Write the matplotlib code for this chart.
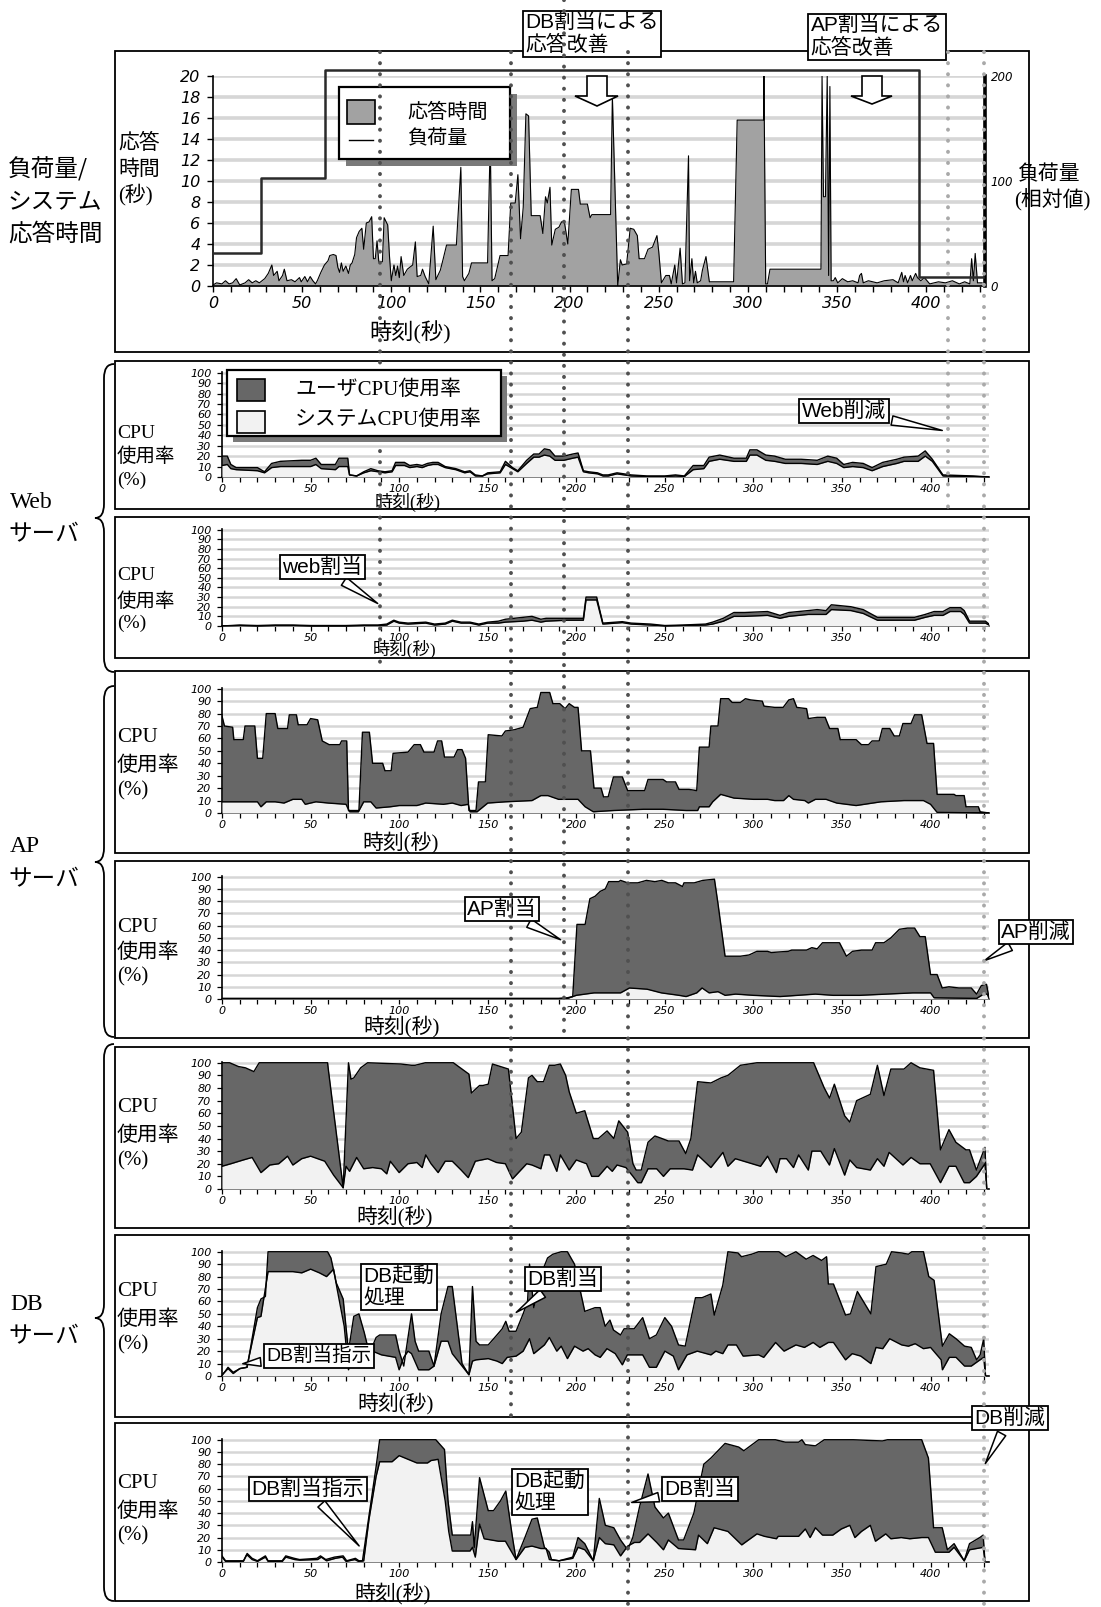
import numpy as np
import matplotlib
matplotlib.use('Agg')
import matplotlib.pyplot as plt
from matplotlib.patches import Rectangle, Polygon, PathPatch
from matplotlib.path import Path
from matplotlib.lines import Line2D
from matplotlib.text import Annotation
from matplotlib.ticker import MultipleLocator

# ---------------------------------------------------------------- data
resp_time = [0, 2, 5, 7, 9, 11, 13, 15, 18, 20,
             22, 24, 26, 29, 31, 33, 34, 36, 37, 39,
             40, 41.5, 44, 46, 48.5, 49.5, 51.5, 53, 54.5, 56,
             57.5, 58.5, 60.5, 62.5, 64.5, 65.5, 67.5, 69, 70, 71,
             72, 73, 74.5, 76, 77, 78, 79.5, 80.5, 82, 83.5,
             84.5, 86, 87.5, 89, 90, 91, 92, 93, 95, 96,
             98, 99, 100, 101.5, 102.5, 103.5, 104.5, 105.5, 107, 109,
             112, 113.5, 114.5, 116.5, 117.5, 119, 121, 123.5, 125, 127.5,
             129, 131, 136.5, 139, 140, 141, 143.5, 145, 154, 155.5,
             156.5, 158, 161, 165.5, 167, 169.5, 171, 172.5, 174, 175.5,
             177, 178.5, 183.5, 185, 186.5, 187.5, 189, 190, 192, 194,
             195.5, 197, 199, 201, 205, 206, 210, 211.5, 212.5, 223,
             224, 227, 228.5, 229.5, 232, 234, 236, 238, 239, 242,
             244, 246.5, 249, 250, 251.5, 254, 256, 257, 259, 260,
             262, 263.3, 264.7, 266.7, 267.3, 268.6, 269.6, 270.6, 271.6, 273.5,
             274.5, 276.5, 278.4, 292, 294, 308.8, 309, 310, 311, 312.4,
             341, 341.6, 342.4, 343.5, 344.5, 345.3, 346, 346.7, 348, 349,
             350.4, 353, 356, 358.8, 361.8, 362.7, 363.7, 364.7, 367.6, 372.5,
             376.5, 381.4, 384.3, 386.3, 387.3, 388.2, 389.6, 391.2, 392.2, 394.1,
             395.1, 397, 399, 402, 406.9, 410.8, 414.7, 418.6, 421.6, 424.5,
             425.5, 426.5, 427.5, 428.8, 431.4]
resp_sec = [0.1, 0.3, 0.2, 0.5, 0.2, 0.3, 0.7, 0.1, 0.3, 0.6,
            0.3, 0.5, 0.3, 0.7, 1.2, 2.0, 1.0, 1.4, 0.5, 1.0,
            1.6, 0.5, 0.6, 0.4, 0.8, 0.4, 0.9, 0.4, 0.9, 0.5,
            0.2, 0.5, 1.3, 2.0, 2.4, 2.9, 3.0, 2.9, 1.8, 1.3,
            2.2, 1.4, 1.9, 1.2, 2.0, 2.2, 3.0, 4.6, 5.2, 5.5,
            3.5, 6.0, 6.1, 6.6, 2.6, 2.6, 4.3, 2.3, 2.3, 6.5,
            5.8, 2.8, 0.5, 2.0, 1.0, 1.9, 0.8, 2.8, 1.0, 1.6,
            2.0, 4.2, 0.9, 1.0, 1.6, 0.9, 0.2, 5.7, 0.6, 1.5,
            2.5, 3.9, 3.9, 11.3, 0.9, 0.5, 1.2, 2.2, 2.2, 14.0,
            0.5, 0.7, 2.9, 2.9, 7.9, 7.9, 10.6, 4.5, 7.5, 16.4,
            16.2, 6.7, 6.7, 5.0, 8.5, 7.9, 9.4, 3.9, 5.4, 5.6,
            6.1, 6.2, 4.0, 9.2, 9.2, 7.8, 7.8, 6.5, 6.8, 6.8,
            18.1, 0.0, 2.5, 2.0, 2.1, 5.5, 5.4, 4.8, 2.6, 2.6,
            3.5, 3.7, 4.8, 3.3, 0.3, 1.0, 1.0, 0.2, 2.0, 0.3,
            3.6, 0.2, 0.3, 12.4, 0.5, 2.6, 0.3, 1.4, 0.3, 0.5,
            1.5, 2.8, 0.4, 0.4, 15.8, 15.8, 20.0, 0.2, 0.2, 1.6,
            1.6, 20.0, 8.5, 8.5, 20.0, 1.0, 19.0, 0.5, 0.5, 0.8,
            0.3, 0.7, 0.4, 0.5, 0.3, 1.0, 1.2, 0.3, 0.5, 0.3,
            0.5, 0.6, 0.3, 1.3, 0.4, 1.0, 0.3, 1.0, 0.5, 1.2,
            0.8, 0.5, 0.8, 0.2, 0.4, 0.3, 0.5, 0.2, 0.4, 0.2,
            2.6, 0.5, 3.1, 0.3, 0.3]

load_time = [0, 27, 63, 396, 432]
load_val = [31, 103, 206, 8.5, 8.5]

web1_t = [0, 3, 5, 8, 20, 24, 28, 33, 45, 50,
          53, 56, 64, 66, 71, 72, 76, 80, 84, 88,
          92, 96, 98, 103, 106, 110, 113, 116, 119, 122,
          126, 132, 137, 140, 143, 147, 150, 157, 160, 164,
          167, 172, 176, 179, 182, 185, 188, 193, 198, 201,
          204, 207, 212, 215, 218, 223, 227, 231, 240, 250,
          256, 261, 266, 272, 275, 281, 289, 296, 298, 302,
          307, 312, 318, 327, 336, 342, 347, 351, 356, 362,
          367, 373, 381, 385, 393, 397, 401, 407, 424, 433]
web1_tot = [20, 20, 12, 9, 9, 5, 13, 15, 16, 16,
            18, 12, 12, 18, 18, 2, 1, 5, 8, 6,
            5, 6, 14, 14, 11, 12, 11, 13, 14, 14,
            10, 8, 5, 6, 2, 1, 4, 5, 15, 9,
            6, 16, 22, 22, 27, 26, 20, 20, 22, 23,
            6, 5, 4, 2, 2, 4, 3, 2, 1, 1,
            2, 1, 11, 11, 19, 21, 18, 18, 26, 26,
            21, 20, 17, 17, 16, 20, 18, 12, 14, 13,
            9, 14, 17, 19, 20, 25, 17, 2, 1, 0]
web1_sys = [11, 12, 8, 7, 6, 4, 9, 10, 10, 10,
            12, 8, 7, 10, 10, 2, 1, 4, 6, 5,
            4, 5, 11, 11, 9, 10, 9, 11, 12, 12,
            9, 7, 4, 5, 1, 1, 3, 4, 12, 8,
            5, 13, 19, 19, 21, 20, 16, 16, 18, 19,
            5, 4, 3, 1, 1, 3, 2, 1, 0.5, 0.5,
            1, 0.5, 7, 8, 15, 17, 15, 15, 21, 21,
            16, 15, 13, 13, 12, 15, 13, 9, 10, 9,
            6, 10, 13, 15, 15, 20, 15, 1, 0.5, 0]

web2_t = [0, 10, 20, 30, 40, 50, 70, 80, 88, 93,
          97, 100, 105, 115, 120, 126, 130, 135, 140, 145,
          150, 156, 160, 170, 175, 180, 183, 195, 204, 205.5,
          211.5, 215, 226, 231, 242, 250, 260, 273, 277, 283,
          289, 295, 308, 315, 320, 331, 336, 341, 344, 355,
          362, 370, 391, 397, 402, 407, 411, 417, 419, 422,
          431, 433]
web2_tot = [0, 1, 0.5, 1, 1, 0.5, 0.5, 1, 1, 2,
            6, 4, 3, 4, 2, 3, 6, 4, 4, 2,
            4, 5, 7, 9, 10, 7, 8, 8, 8, 30,
            30, 3, 4.5, 3, 2, 0.5, 1, 2, 4, 8,
            14, 14, 15, 11, 14, 16, 17, 16, 22, 20,
            17, 9, 9, 12, 15, 15, 19, 19, 16, 5,
            5, 2]
web2_sys = [0, 0.5, 0, 0.5, 0.5, 0, 0, 0.5, 0.5, 1,
            5, 3, 2, 3, 1, 2, 5, 3, 3, 1,
            3, 3, 4, 5, 6, 4, 5, 6, 6, 27,
            27, 2, 3.5, 2, 1, 0, 0.5, 1, 2, 5,
            10, 10, 11, 8, 10, 12, 12, 12, 17, 16,
            13, 6, 6, 9, 11, 11, 15, 15, 12, 3,
            3, 1]

ap1_tot_t = [0, 1.4, 6, 6.7, 12, 13, 18.5, 20, 23, 25,
             30, 31.5, 37, 38, 42, 43, 48, 50, 54, 56.6,
             60.5, 66.5, 67.5, 70.4, 71.4, 77.3, 79.3, 83.2, 85, 90.7,
             92, 95.5, 96.6, 105, 108.5, 112, 114, 119.7, 121.7, 124,
             125.6, 131, 133, 135.5, 137.5, 139.4, 143.4, 144.8, 148.7, 150.3,
             158, 160, 165, 170, 174, 178, 180, 185, 186.8, 190.7,
             193.7, 196, 199, 201, 203, 208, 210, 214, 215.4, 218,
             221, 226, 229, 238.6, 240.5, 249, 251, 256, 258, 263.7,
             268, 269.5, 275, 276, 280, 281.5, 286, 288, 292.7, 295.5,
             298.5, 305, 306, 312, 316.8, 320, 322.6, 324.5, 330, 331,
             336, 340.5, 343, 347.7, 349, 358, 361, 365, 367, 371,
             372.8, 377, 379.5, 382.4, 384.4, 389, 391, 395, 398, 401.7,
             403.7, 413.3, 414.3, 419, 420, 427, 428, 433]
ap1_tot = [78, 70, 69, 59, 59, 70, 70, 44, 44, 80,
           80, 68, 68, 79, 79, 71, 71, 76, 75, 58,
           55, 55, 58, 58, 2, 2, 65, 65, 40, 40,
           34, 34, 48, 49, 55, 55, 49, 49, 58, 58,
           45, 45, 51, 51, 44, 2, 2, 25, 25, 63,
           62, 66, 67, 69, 84, 85, 97, 97, 88, 88,
           84, 88, 85, 85, 50, 50, 20, 20, 13, 13,
           29, 29, 18, 18, 27, 27, 25, 25, 19, 19,
           18, 53, 53, 70, 70, 92, 92, 89, 89, 92,
           91, 90, 86, 85, 85, 91, 92, 85, 84, 76,
           77, 77, 68, 68, 59, 59, 55, 55, 58, 58,
           68, 68, 62, 62, 72, 72, 79, 79, 56, 56,
           15, 15, 14, 14, 5, 5, 1, 0]
ap1_sys_t = [0, 20, 22, 25, 30, 35, 40, 45, 47, 53,
             60, 70, 72, 77, 80, 84, 87, 95, 100, 110,
             115, 125, 130, 135, 139, 140, 144, 150, 160, 175,
             180, 184, 190, 201, 205, 209.6, 221, 238, 249, 262,
             268.5, 269.5, 275, 277, 281.5, 284, 289, 300, 308, 312,
             317, 320, 322.6, 329, 331, 335, 341, 347, 358, 372,
             385, 396, 400, 403.7, 433]
ap1_sys = [9, 9, 5, 9, 9, 8, 11, 11, 7, 9,
           8, 7, 1, 1, 9, 9, 4, 5, 6, 6,
           8, 7, 8, 6, 7, 1, 1, 8, 9, 10,
           14, 14, 11, 11, 5, 1, 2, 3, 3, 2,
           2, 5, 5, 9, 15, 14, 12, 11, 11, 10,
           10, 14, 11, 10, 8, 11, 11, 8, 6, 9,
           10, 10, 7, 0.5, 0]

ap2_tot_t = [0, 190, 195, 198, 200.4, 205, 207.7, 210.6, 213.5, 216.4,
             218.3, 224, 225, 229, 234.7, 239.6, 244.4, 248.3, 252, 256,
             260, 260.8, 266.6, 271.4, 278, 280, 284, 292.7, 297.5, 302,
             308, 310, 319.7, 321.6, 330, 333, 336, 339, 348.6, 352.5,
             356, 361, 367, 369, 373.7, 377.6, 382.4, 387, 391, 394,
             397, 400, 403.7, 406.6, 410.4, 416, 423, 426, 428.7, 431.6,
             433]
ap2_tot = [0.5, 0.5, 1, 2, 61, 61, 82, 84, 88, 90,
           96, 96, 97, 95, 95, 97, 96, 97, 95, 95,
           92, 95, 95, 97, 98, 78, 35, 35, 36, 39,
           39, 38, 39, 40, 40, 42, 41, 46, 46, 35,
           39, 40, 40, 46, 46, 50, 57, 58, 58, 51,
           51, 20, 20, 9, 10, 9, 9, 4, 11, 12,
           1]
ap2_sys_t = [0, 190, 195, 200, 210, 225, 230, 240, 248, 258,
             262, 268, 271, 275, 280, 284, 290, 300, 315, 335,
             345, 360, 375, 390, 400, 402, 426, 430, 432, 433]
ap2_sys = [0.3, 0.3, 0.5, 3, 5, 5, 9, 8, 5, 3,
           2, 5, 9, 5, 6, 3, 4, 3, 2, 4,
           3, 3, 4, 5, 5, 1, 0.5, 4, 4, 0.5]

db1_tot_t = [0, 4.3, 9.3, 13.2, 18, 21, 24, 59.6, 60, 68.4,
             71.4, 72.8, 74.4, 78.3, 82.2, 101, 107, 109, 114.8, 130.6,
             139.4, 140.8, 145.4, 147.3, 150.3, 152.7, 157.2, 161.7, 166, 169,
             173, 175, 178, 181.5, 184.8, 187.8, 191, 194, 196, 200,
             204.8, 209.6, 212.5, 217.4, 221.2, 224, 229, 232, 233.8, 236.7,
             240.5, 244.4, 248.3, 252, 258, 261.8, 264.7, 268.5, 276, 281.7,
             285.6, 292.7, 302, 318.7, 326.4, 334, 340, 343, 345.7, 351.5,
             354.4, 358.3, 366, 370, 373.7, 377.6, 385, 389, 394, 401.7,
             405.6, 410.4, 414.3, 420, 422, 425.9, 430.7, 431.7]
db1_tot = [100, 100, 97, 96, 93, 100, 100, 100, 95, 1,
           100, 87, 88, 96, 100, 99, 98, 98, 100, 100,
           91, 76, 82, 82, 83, 99, 97, 95, 40, 45,
           88, 90, 85, 85, 98, 98, 99, 90, 77, 60,
           62, 40, 40, 46, 40, 54, 45, 20, 15, 15,
           37, 42, 40, 38, 38, 28, 40, 85, 84, 88,
           90, 98, 100, 100, 100, 100, 80, 72, 83, 58,
           53, 70, 75, 98, 74, 95, 95, 100, 96, 94,
           31, 47, 37, 31, 31, 15, 33, 1]
db1_sys_t = [0, 5, 12, 17, 22, 27, 32, 37, 40, 45,
             50, 58, 63, 68.4, 70, 72, 76, 80, 85, 90,
             93, 95, 100, 105, 110, 113, 115, 118, 122, 126,
             130, 135, 139, 143, 150, 155, 160, 164, 168, 172,
             175, 180, 182, 185, 189, 191, 196, 200, 205.8, 208.7,
             212.5, 217.4, 220.3, 223, 228, 232, 234.7, 236.7, 240.5, 245.4,
             249.2, 253, 260.8, 265.6, 268.5, 276, 282.8, 285.6, 289.8, 304,
             308, 313, 315, 318.7, 322.6, 325.5, 331, 333, 338, 342.9,
             345.7, 351.5, 354.4, 358.3, 366, 370, 373.7, 376.6, 384.4, 389,
             394, 399.8, 405.6, 410.4, 414.3, 419, 422, 425.9, 430.7, 431.7]
db1_sys = [18, 20, 23, 25, 13, 19, 20, 26, 19, 24,
           26, 22, 11, 1, 18, 14, 25, 16, 17, 16,
           12, 22, 13, 20, 21, 17, 27, 20, 13, 22,
           22, 15, 9, 22, 24, 21, 20, 8, 14, 20,
           19, 16, 27, 27, 14, 27, 15, 23, 20, 10,
           10, 18, 14, 19, 17, 10, 5, 5, 16, 16,
           10, 16, 16, 15, 27, 17, 29, 18, 24, 18,
           26, 13, 24, 24, 17, 27, 15, 30, 30, 19,
           32, 11, 23, 17, 15, 24, 18, 29, 19, 25,
           20, 20, 5, 18, 18, 5, 5, 10, 20, 0.5]

db2_tot_t = [0, 1.4, 3.4, 6.3, 10.3, 14.2, 20, 22, 24.5, 26,
             59.6, 61.5, 64.5, 68.4, 71.4, 74.4, 77.3, 80.3, 83.2, 87,
             89, 98, 100, 102.6, 107, 109, 111, 116.8, 119.7, 123.7,
             127.6, 130, 135.5, 139.4, 141.4, 143.4, 145.4, 150.3, 155.2, 158.2,
             160.2, 162.1, 166, 170, 172.5, 173.6, 176, 181, 183.8, 186.8,
             191.5, 195, 199, 204.8, 210.6, 213.5, 216.3, 219, 221, 225,
             227, 232.7, 237.5, 241.3, 245.2, 250, 253.8, 257.7, 261.5, 267.3,
             271, 276, 277.9, 282.7, 285.6, 291.3, 293.3, 299, 302.9, 314.4,
             318.3, 324, 329.8, 333.7, 338.5, 341.3, 342.3, 345.2, 352, 354.8,
             358.7, 366.3, 369.2, 375, 378, 383.7, 387.5, 389.4, 396, 399,
             402, 406.7, 410.6, 414.4, 419.2, 423, 426, 428, 430, 431]
db2_tot = [1, 3, 7, 3, 6, 7, 55, 62, 64, 100,
           100, 95, 75, 62, 20, 48, 50, 35, 18, 31,
           33, 33, 20, 8, 50, 28, 20, 20, 8, 50,
           72, 72, 10, 1, 72, 28, 25, 25, 33, 38,
           44, 36, 36, 50, 60, 90, 55, 85, 95, 98,
           100, 100, 90, 52, 55, 55, 40, 45, 37, 33,
           38, 38, 47, 30, 33, 47, 40, 25, 24, 63,
           63, 66, 49, 73, 100, 99, 96, 98, 100, 100,
           96, 100, 94, 97, 93, 96, 74, 74, 49, 50,
           68, 50, 88, 90, 100, 99, 98, 100, 100, 80,
           77, 24, 34, 30, 24, 23, 13, 17, 30, 1]
db2_sys_t = [0, 1.4, 3.4, 6.3, 10, 14, 20, 22, 26, 40,
             45, 50, 55, 59, 63, 65, 69, 71.4, 74, 80,
             85, 90, 98, 100, 102.6, 105, 107, 111, 116.8, 119.7,
             123.7, 127.6, 130, 139.4, 141.4, 143.4, 150.3, 155.2, 158.2, 161,
             166, 170, 173.6, 176, 182, 184.8, 189, 191.5, 195, 199,
             203.8, 206.7, 210.6, 213.5, 217.3, 222, 226, 228.8, 237.5, 241.3,
             245.2, 250, 254.8, 257.7, 262.5, 268.3, 276, 278.8, 282.7, 285.6,
             290.4, 294.2, 302.9, 305.8, 312.5, 317.3, 324, 328.8, 333.7, 337.5,
             342.3, 345.2, 352, 355.8, 360.6, 366.3, 369.2, 373, 376.9, 383.7,
             387.5, 391.3, 396, 400, 406, 406.7, 410.6, 414.4, 419.2, 423,
             426.9, 430, 431]
db2_sys = [0.5, 3, 6, 2, 6, 7, 47, 48, 84, 84,
           83, 86, 83, 80, 86, 70, 40, 5, 20, 20,
           20, 17, 15, 5, 15, 20, 18, 5, 5, 8,
           28, 28, 18, 1, 12, 13, 14, 12, 10, 15,
           16, 20, 30, 18, 25, 31, 20, 24, 14, 24,
           20, 22, 17, 15, 22, 18, 9, 17, 17, 7,
           7, 20, 16, 5, 17, 20, 17, 20, 18, 25,
           25, 16, 17, 15, 27, 20, 25, 23, 27, 23,
           27, 27, 13, 18, 16, 10, 23, 22, 30, 25,
           24, 26, 22, 23, 13, 5, 15, 15, 8, 8,
           12, 15, 0.5]

db3_tot_t = [0, 2, 12.2, 14.2, 17, 20, 24.5, 26, 34, 36,
             40.8, 43.8, 53.6, 55.6, 58.6, 63.5, 68.4, 70.4, 75.3, 77.3,
             79.3, 83.2, 87.2, 89, 120.7, 125.6, 127.6, 130, 140.4, 141.4,
             142.4, 145.4, 150.3, 153.3, 157.2, 160.2, 164, 166, 171, 175,
             178, 182, 184.8, 186, 190.3, 198, 201, 204.8, 209.6, 213,
             216.4, 221.2, 225, 229, 231.9, 235.7, 240.5, 244.4, 249.2, 252,
             257.7, 260.6, 266.4, 272, 276, 284, 291.7, 294.6, 303, 312.4,
             318, 325.5, 327.4, 329.3, 335, 340, 356.4, 372.8, 375.7, 395,
             398.8, 401.7, 406.6, 409.5, 413.3, 419, 422, 427.8, 429.7, 430.7]
db3_tot = [5, 1, 1, 7, 3, 1, 5, 1, 1, 5,
           3, 2, 3, 5, 2, 4, 5, 1, 3, 1,
           1, 40, 80, 100, 100, 92, 50, 22, 22, 33,
           12, 69, 42, 42, 50, 58, 20, 2, 20, 35,
           36, 12, 8, 2, 1, 4, 20, 15, 1, 52,
           30, 28, 18, 10, 20, 45, 72, 45, 36, 40,
           18, 18, 40, 80, 85, 97, 94, 91, 100, 100,
           98, 98, 100, 96, 95, 100, 100, 99, 100, 100,
           85, 28, 28, 10, 15, 1, 15, 20, 22, 1]
db3_sys_t = [0, 2, 12, 14, 17, 20, 24.5, 26, 34, 36,
             41, 44, 54, 56, 59, 64, 68, 70, 75, 77,
             80, 83, 87, 89, 96, 100, 105, 110, 116, 118,
             122, 126, 128, 130, 140, 141.4, 143, 145.4, 148, 156,
             160, 166, 171, 175, 180, 183, 184.8, 190.3, 198, 201,
             204.8, 209.6, 213, 216.4, 221.2, 225, 229, 232.8, 235.7, 240.5,
             245.4, 249.2, 252, 257.7, 267.3, 269, 274, 277.8, 285.6, 293.4,
             297.2, 302, 306.2, 313, 314, 325.5, 329.3, 332, 335, 339,
             344.8, 349.6, 354.4, 357.3, 361, 366, 368.9, 374.7, 377.6, 383.4,
             388.2, 395, 398.8, 402.7, 410.4, 413.3, 419, 422, 425.9, 429.7,
             430.7]
db3_sys = [4, 0.5, 0.5, 6, 2, 0.5, 4, 0.5, 0.5, 4,
           2, 1.5, 2, 4, 1, 3, 4, 0.5, 2, 0.5,
           1, 35, 70, 82, 82, 87, 84, 81, 81, 83,
           84, 50, 25, 9, 9, 12, 4, 31, 19, 17,
           17, 2, 12, 13, 11, 11, 2, 1, 3, 12,
           10, 1, 20, 15, 14, 5, 13, 16, 16, 23,
           16, 10, 18, 11, 10, 22, 15, 28, 25, 14,
           18, 23, 21, 19, 21, 21, 27, 20, 28, 22,
           22, 27, 30, 20, 25, 30, 17, 23, 19, 20,
           19, 20, 20, 8, 8, 12, 1, 10, 11, 12,
           1]

event_t = [89.2, 163.2, 193.1, 229.2, 409.9, 430.3]

x_ticks = [0, 50, 100, 150, 200, 250, 300, 350, 400]
resp_ticks = [0, 2, 4, 6, 8, 10, 12, 14, 16, 18, 20]
load_ticks = [0, 100, 200]
cpu_ticks = [0, 10, 20, 30, 40, 50, 60, 70, 80, 90, 100]

# ---------------------------------------------------------------- style
JP = ['Noto Sans CJK JP', 'DejaVu Sans']
SERIF_JP = ['Liberation Serif', 'Noto Sans CJK JP']
SANS_JP = ['Liberation Sans', 'Noto Sans CJK JP']
TICKF = 'DejaVu Sans'
plt.rcParams['font.family'] = JP

USER_C = '#676767'
SYS_C = '#f2f2f2'
RESP_C = '#a2a2a2'
GRID_C = '#d6d6d6'

W, H = 1101, 1607
fig = plt.figure(figsize=(W / 100, H / 100), dpi=100)
fig.patch.set_facecolor('white')


def fx(x):
    return x / W


def fy(y):
    return 1 - y / H


def axes_px(l, t, r, b):
    return fig.add_axes([l / W, 1 - b / H, (r - l) / W, (b - t) / H])


def ftext(x, y, s, fs, fam=JP, ha='left', **kw):
    fig.text(fx(x), fy(y), s, fontsize=fs, family=fam, ha=ha, va='center', **kw)


def rect_px(l, t, r, b, z=0.5, **kw):
    p = Rectangle((fx(l), fy(b)), (r - l) / W, (b - t) / H,
                  transform=fig.transFigure, zorder=z, **kw)
    fig.add_artist(p)


def style_ticklabels(a, fs):
    for lbl in a.get_xticklabels() + a.get_yticklabels():
        lbl.set_fontfamily(TICKF)
        lbl.set_fontstyle('oblique')
        lbl.set_fontsize(fs)


# ---------------------------------------------------------------- panel frames
for (l, t, r, b) in [(115, 51, 1029, 352), (115, 361, 1029, 509),
                     (115, 517, 1029, 658), (115, 671, 1029, 853),
                     (115, 861, 1029, 1038), (115, 1047, 1029, 1228),
                     (115, 1235, 1029, 1417), (115, 1423, 1029, 1601)]:
    rect_px(l, t, r, b, z=0.2, fill=False, ec='black', lw=1.3)

# ---------------------------------------------------------------- top panel
ax = axes_px(213, 76, 985, 286)
ax.set_xlim(0, 433)
ax.set_ylim(0, 20)
ax.fill_between(resp_time, 0, resp_sec, color=RESP_C, lw=0, zorder=2)
ax.plot(resp_time, resp_sec, color='black', lw=0.8, zorder=3)
ax.set_yticks(resp_ticks)
ax.set_yticklabels([str(v) for v in resp_ticks])
ax.set_xticks(x_ticks)
ax.set_xticklabels([str(v) for v in x_ticks])
style_ticklabels(ax, 11.5)
ax.xaxis.set_minor_locator(MultipleLocator(10))
ax.tick_params(axis='both', which='both', direction='out', length=4, width=1)
ax.tick_params(axis='y', pad=5)
ax.grid(axis='y', color=GRID_C, lw=2.6, zorder=0)
ax.set_axisbelow(True)
for s in ['top', 'right']:
    ax.spines[s].set_visible(False)
for s in ['left', 'bottom']:
    ax.spines[s].set_linewidth(1.2)

ax2 = ax.twinx()
ax2.set_ylim(0, 200)
ax2.plot(load_time, load_val, drawstyle='steps-post', color='#2a2a2a', lw=1.8,
         clip_on=False, zorder=4)
ax2.set_yticks(load_ticks)
ax2.set_yticklabels([str(v) for v in load_ticks])
style_ticklabels(ax2, 8.5)
ax2.tick_params(axis='y', length=0, pad=4)
for s in ['top', 'left', 'bottom']:
    ax2.spines[s].set_visible(False)
ax2.spines['right'].set_linewidth(2.6)

# top legend
rect_px(346, 94, 517, 166, z=1.4, fc='#7a7a7a', ec='none')
rect_px(339, 87, 510, 159, z=1.5, fc='white', ec='black', lw=1.6)
rect_px(347, 100, 375, 124, z=1.6, fc=RESP_C, ec='black', lw=1.2)
fig.add_artist(Line2D([fx(349), fx(373)], [fy(140), fy(140)],
                      transform=fig.transFigure, color='black', lw=1.0, zorder=1.6))
fig.text(fx(407), fy(112), '応答時間', fontsize=14.5, family=JP, va='center', zorder=1.6)
fig.text(fx(407), fy(139), '負荷量', fontsize=14.5, family=JP, va='center', zorder=1.6)

# top labels
ftext(118, 143, '応答', 15)
ftext(118, 169, '時間', 15)
ftext(118, 195, '(秒)', 15, fam=SERIF_JP)
ftext(1018, 174, '負荷量', 15)
ftext(1014, 199, '(相対値)', 15, fam=SERIF_JP)
ftext(410, 333, '時刻(秒)', 16, fam=SERIF_JP, ha='center')

# ---------------------------------------------------------------- CPU panels
cpu_series = [
    (372, 477, web1_t, web1_tot, web1_t, web1_sys),
    (529, 626, web2_t, web2_tot, web2_t, web2_sys),
    (688, 813, ap1_tot_t, ap1_tot, ap1_sys_t, ap1_sys),
    (876, 999, ap2_tot_t, ap2_tot, ap2_sys_t, ap2_sys),
    (1062, 1189, db1_tot_t, db1_tot, db1_sys_t, db1_sys),
    (1251, 1376, db2_tot_t, db2_tot, db2_sys_t, db2_sys),
    (1439, 1562, db3_tot_t, db3_tot, db3_sys_t, db3_sys),
]
ylab_pos = [(434, 457, 480, 14), (576, 601, 623, 14), (737, 765, 791, 15),
            (927, 952, 977, 15), (1108, 1135, 1161, 15), (1292, 1319, 1345, 15),
            (1484, 1511, 1536, 15)]
xlab_pos = [(408, 502, 13), (405, 649, 12.5), (401, 843, 15), (402, 1027, 15),
            (395, 1217, 15), (396, 1404, 15), (393, 1594, 15)]

cpu_axes = []
for (top, bot, tt, tv, st, sv), yl, xl in zip(cpu_series, ylab_pos, xlab_pos):
    a = axes_px(222, top, 989, bot)
    a.set_xlim(0, 433)
    a.set_ylim(0, 100.6)
    a.fill_between(tt, 0, tv, color=USER_C, lw=0, zorder=2)
    a.fill_between(st, 0, sv, color=SYS_C, lw=0, zorder=3)
    a.plot(tt, tv, color='black', lw=1.0, zorder=4)
    a.plot(st, sv, color='black', lw=1.0, zorder=4)
    a.set_yticks(cpu_ticks)
    a.set_yticklabels([str(v) for v in cpu_ticks])
    a.set_xticks(x_ticks)
    a.set_xticklabels([str(v) for v in x_ticks])
    style_ticklabels(a, 8)
    a.xaxis.set_minor_locator(MultipleLocator(10))
    a.tick_params(axis='both', which='both', direction='out', length=3.5, width=0.9)
    a.tick_params(axis='x', pad=1.5)
    a.tick_params(axis='y', pad=4)
    a.grid(axis='y', color=GRID_C, lw=1.8, zorder=0)
    a.set_axisbelow(True)
    for s in ['top', 'right']:
        a.spines[s].set_visible(False)
    for s in ['left', 'bottom']:
        a.spines[s].set_linewidth(1.2)
    cpu_axes.append(a)
    y1, y2, y3, fs = yl
    ftext(117, y1, 'CPU', fs, fam=SERIF_JP)
    ftext(117, y2, '使用率', fs)
    ftext(117, y3, '(%)', fs, fam=SERIF_JP)
    ftext(xl[0], xl[1], '時刻(秒)', xl[2], fam=SERIF_JP, ha='center')

# CPU legend (web panel)
rect_px(233, 376, 507, 442, z=5.9, fc='#7a7a7a', ec='none')
rect_px(227, 370, 501, 436, z=6, fc='white', ec='black', lw=1.6)
rect_px(237, 379, 265, 401, z=6.1, fc=USER_C, ec='black', lw=1.2)
rect_px(237, 411, 265, 433, z=6.1, fc=SYS_C, ec='black', lw=1.2)
fig.text(fx(295), fy(390), 'ユーザCPU使用率', fontsize=15, family=SERIF_JP,
         va='center', zorder=6.2)
fig.text(fx(295), fy(420), 'システムCPU使用率', fontsize=15, family=SERIF_JP,
         va='center', zorder=6.2)

# ---------------------------------------------------------------- group labels + braces
ftext(8, 169, '負荷量/', 17)
ftext(8, 202, 'システム', 17)
ftext(8, 234, '応答時間', 17)
ftext(10, 502, 'Web', 17, fam=SERIF_JP)
ftext(8, 535, 'サーバ', 17)
ftext(10, 847, 'AP', 17, fam=SERIF_JP)
ftext(8, 880, 'サーバ', 17)
ftext(10, 1304, 'DB', 17, fam=SERIF_JP)
ftext(8, 1337, 'サーバ', 17)


def brace(top, bot, mid, xr=114, xm=104, xt=95, r=14):
    verts = [(xr, top), (xm, top), (xm, top + r),
             (xm, mid - r), (xm, mid), (xt, mid),
             (xm, mid), (xm, mid + r),
             (xm, bot - r), (xm, bot), (xr, bot)]
    codes = [Path.MOVETO, Path.CURVE3, Path.CURVE3, Path.LINETO,
             Path.CURVE3, Path.CURVE3, Path.CURVE3, Path.CURVE3,
             Path.LINETO, Path.CURVE3, Path.CURVE3]
    p = Path([(fx(x), fy(y)) for x, y in verts], codes)
    fig.add_artist(PathPatch(p, fill=False, lw=1.3, ec='black',
                             transform=fig.transFigure, zorder=1))


brace(364, 672, 518)
brace(686, 1037, 862)
brace(1044, 1601, 1318)

# ---------------------------------------------------------------- event lines
ev_top = [52, 52, 0, 52, 52, 52]
ev_bot = [665, 1418, 1040, 1607, 515, 1607]
ev_col = ['#505050', '#505050', '#505050', '#505050', '#a9a9a9', '#a9a9a9']
ref_ax = cpu_axes[0]
for t, y0, y1, c in zip(event_t, ev_top, ev_bot, ev_col):
    xd = ref_ax.transData.transform((t, 0))[0]
    xf = xd / fig.bbox.width
    fig.add_artist(Line2D([xf, xf], [fy(y0), fy(y1)], transform=fig.transFigure,
                          color=c, lw=2.8, ls=(0, (0.05, 2.8)),
                          dash_capstyle='round', zorder=5))

# ---------------------------------------------------------------- hollow arrows
for pts in [[(587, 76), (607, 76), (607, 96), (618, 96), (597, 106), (575, 96), (587, 96)],
            [(862, 76), (882, 76), (882, 96), (892, 96), (872, 104), (851, 96), (862, 96)]]:
    fig.add_artist(Polygon([(fx(x), fy(y)) for x, y in pts], closed=True,
                           fc='white', ec='black', lw=1.2,
                           transform=fig.transFigure, zorder=4))

# ---------------------------------------------------------------- callouts
BOX = dict(boxstyle='square,pad=0.12', fc='white', ec='black', lw=1.3)


def callout(txt, cx, cy, fs=15, tip=None, ls=1.15):
    kw = dict(fontsize=fs, family=SANS_JP, va='center', ha='center',
              multialignment='left', linespacing=ls, bbox=BOX, zorder=4)
    if tip is None:
        fig.text(fx(cx), fy(cy), txt, **kw)
    else:
        ann = Annotation(txt, xy=(fx(tip[0]), fy(tip[1])), xycoords='figure fraction',
                         xytext=(fx(cx), fy(cy)), textcoords='figure fraction',
                         arrowprops=dict(arrowstyle='wedge,tail_width=0.45,shrink_factor=0.5',
                                         fc='white', ec='black', lw=1.1),
                         annotation_clip=False, **kw)
        fig.add_artist(ann)


callout('DB割当による\n応答改善', 592, 34, fs=15)
callout('AP割当による\n応答改善', 877, 37, fs=15)
callout('Web削減', 844, 411, fs=15, tip=(945, 431))
callout('web割当', 322, 567, fs=15, tip=(380, 605))
callout('AP割当', 502, 909, fs=15, tip=(563, 941))
callout('AP削減', 1036, 932, fs=15, tip=(982, 962))
callout('DB起動\n処理', 399, 1287, fs=15)
callout('DB割当', 563, 1279, fs=15, tip=(514, 1314))
callout('DB割当指示', 319, 1356, fs=14, tip=(240, 1364))
callout('DB割当指示', 308, 1489, fs=15, tip=(361, 1548))
callout('DB起動\n処理', 550, 1492, fs=15)
callout('DB割当', 700, 1489, fs=15, tip=(629, 1503))
callout('DB削減', 1010, 1418, fs=15, tip=(984, 1466))

fig.savefig('out.png', dpi=100, facecolor='white')
